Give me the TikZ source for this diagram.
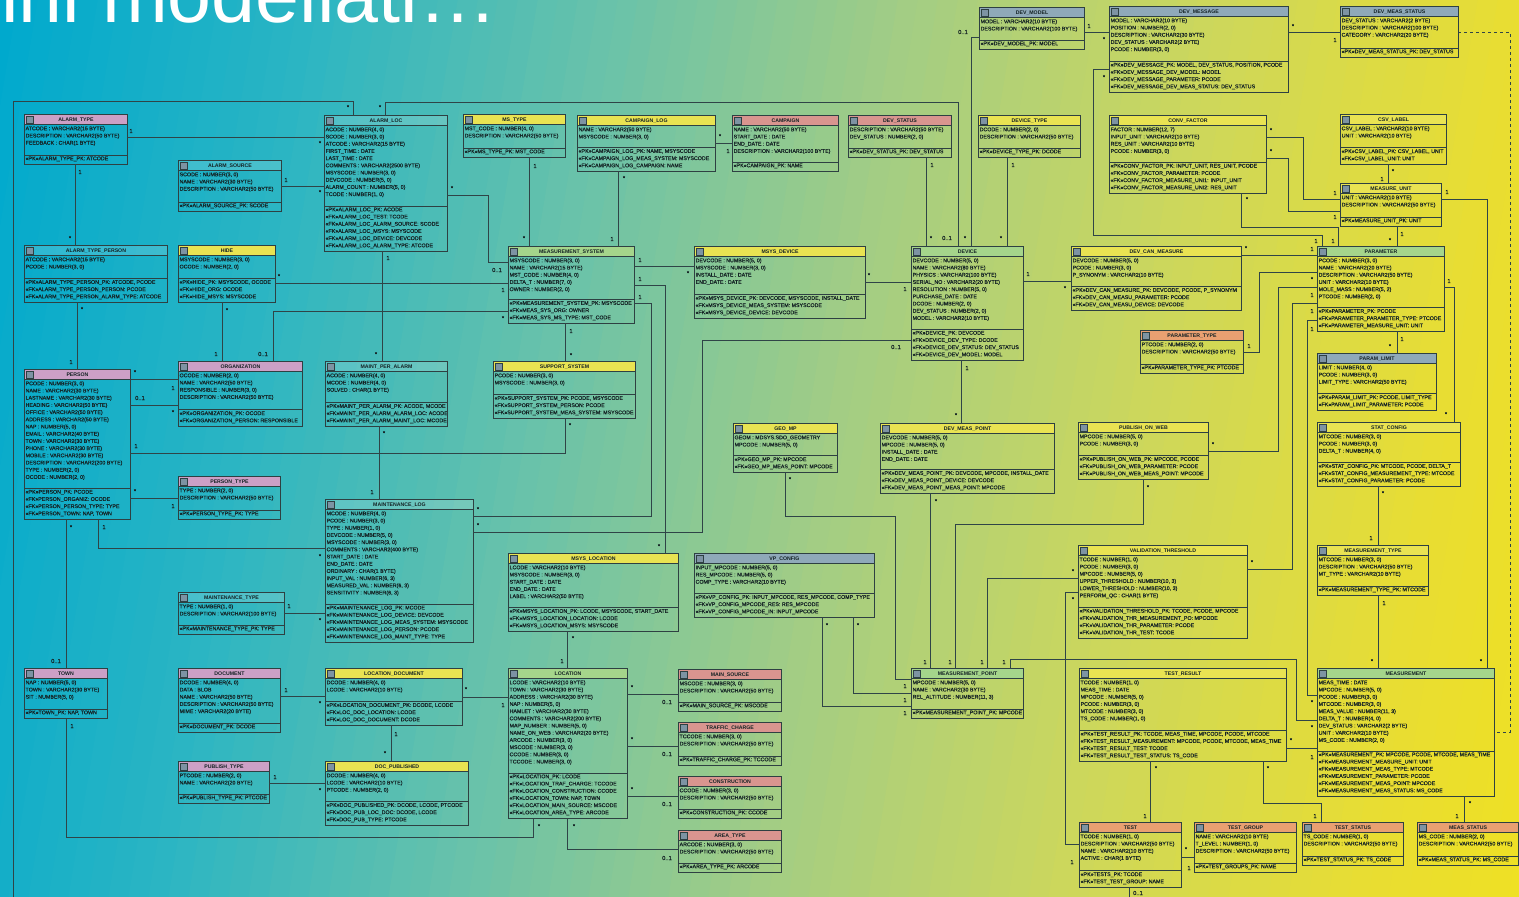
\documentclass[tikz,border=0pt]{standalone}
\usepackage{fontspec}
\setmainfont{Liberation Sans}
\newfontfamily\rowfont[FakeBold=0.4]{Liberation Sans}
\usetikzlibrary{fit,calc}
\definecolor{g0}{HTML}{00A9CD}
\definecolor{g1}{HTML}{2BB5C3}
\definecolor{g2}{HTML}{69C2AA}
\definecolor{g3}{HTML}{A3CD84}
\definecolor{g4}{HTML}{CCD75C}
\definecolor{g5}{HTML}{E8DD33}
\definecolor{g6}{HTML}{F5E416}
\definecolor{bordc}{HTML}{2E4042}
\definecolor{txtc}{HTML}{142224}
\definecolor{iconc}{HTML}{7D93A3}
\definecolor{lncol}{HTML}{2F4447}
\definecolor{hY}{HTML}{E9E352}
\definecolor{hG}{HTML}{A5D58B}
\definecolor{hB}{HTML}{8FA9B9}
\definecolor{hM}{HTML}{CCA0C6}
\definecolor{hR}{HTML}{D9958F}
\definecolor{hO}{HTML}{E9A071}
\tikzset{
  tblline/.style={draw=bordc, line width=1pt},
  sepline/.style={draw=bordc, line width=0.7pt},
  icon/.style={draw=bordc, line width=0.4pt, fill=iconc},
  ttl/.style={font=\bfseries\fontsize{5.2}{6}\selectfont, text=txtc, inner sep=0pt},
  rows/.style={font=\rowfont\fontsize{5.3}{7.2}\selectfont, text=txtc, inner sep=0pt},
  hdrY/.style={fill=hY}, hdrG/.style={fill=hG}, hdrB/.style={fill=hB},
  hdrM/.style={fill=hM}, hdrR/.style={fill=hR}, hdrO/.style={fill=hO},
  hdrT/.style={fill=white, fill opacity=0.15},
  conn/.style={draw=lncol, line width=0.8pt},
  dconn/.style={draw=lncol, line width=0.8pt, dashed},
  mult/.style={font=\rowfont\fontsize{5.8}{6}\selectfont, text=txtc, inner sep=0pt},
}
\newcount\mlc
\newcommand{\ml}[2]{\global\advance\mlc by 1 \node[mult] (ml\the\mlc) at (#1) {#2};}
\newcommand{\ertable}[9]{%
  \node[fit={(#2,#3)(#4,#5)}, inner sep=0pt] (#1) {};
  \fill[#6] (#1.north west) rectangle ([yshift=-9.5pt]#1.north east);
  \draw[sepline] ([yshift=-9.5pt]#1.north west) -- ([yshift=-9.5pt]#1.north east);
  \draw[icon] ([xshift=1.6pt,yshift=-1.4pt]#1.north west) rectangle ++(6.6pt,-6.6pt);
  \node[ttl] (#1-t) at ([yshift=-4.9pt]#1.north) {#7};
  \node[rows, anchor=north west] (#1-a) at ([xshift=0.6pt,yshift=-10.2pt]#1.north west) {\begin{tabular}{@{}l@{}}#8\end{tabular}};
  \node[rows, anchor=south west] (#1-k) at ([xshift=0.6pt,yshift=1.6pt]#1.south west) {\begin{tabular}{@{}l@{}}#9\end{tabular}};
  \draw[sepline] (#1-k.north -| #1.west) -- (#1-k.north -| #1.east);
  \draw[tblline] (#1.north west) rectangle (#1.south east);
}
\begin{document}
\catcode`\_=12
\begin{tikzpicture}[x=1pt,y=-1pt]
\useasboundingbox (0,0) rectangle (1519,897);
% background gradient
\foreach \i in {0,...,89}{
  \pgfmathtruncatemacro{\seg}{min(int(\i/15),5)}
  \pgfmathtruncatemacro{\nseg}{\seg+1}
  \pgfmathtruncatemacro{\pp}{(\i-15*\seg)*100/15}
  \colorlet{stripc}{g\nseg!\pp!g\seg}
  \fill[stripc] (\i*20-2,-2) -- (\i*20+21,-2) -- (\i*20+21-150,899) -- (\i*20-2-150,899) -- cycle;
}
\node[anchor=base west, text=white, font=\fontsize{79}{80}\selectfont, inner sep=0pt] (title) at (1,22) {ini modellati…};

% ---------------- tables ----------------
\ertable{alarmtype}{25}{115}{127}{164}{hdrM}{ALARM_TYPE}
{ATCODE : VARCHAR2(15 BYTE)\\DESCRIPTION : VARCHAR2(50 BYTE)\\FEEDBACK : CHAR(1 BYTE)}
{«PK»ALARM_TYPE_PK: ATCODE}
\ertable{alarmsource}{179}{161}{281}{211}{hdrT}{ALARM_SOURCE}
{SCODE : NUMBER(3, 0)\\NAME : VARCHAR2(30 BYTE)\\DESCRIPTION : VARCHAR2(50 BYTE)}
{«PK»ALARM_SOURCE_PK: SCODE}
\ertable{atp}{25}{246}{167}{302}{hdrT}{ALARM_TYPE_PERSON}
{ATCODE : VARCHAR2(15 BYTE)\\PCODE : NUMBER(3, 0)}
{«PK»ALARM_TYPE_PERSON_PK: ATCODE, PCODE\\«FK»ALARM_TYPE_PERSON_PERSON: PCODE\\«FK»ALARM_TYPE_PERSON_ALARM_TYPE: ATCODE}
\ertable{hide}{179}{246}{275}{302}{hdrY}{HIDE}
{MSYSCODE : NUMBER(3, 0)\\OCODE : NUMBER(2, 0)}
{«PK»HIDE_PK: MSYSCODE, OCODE\\«FK»HIDE_ORG: OCODE\\«FK»HIDE_MSYS: MSYSCODE}
\ertable{alarmloc}{325}{116}{447}{251}{hdrT}{ALARM_LOC}
{ACODE : NUMBER(4, 0)\\SCODE : NUMBER(3, 0)\\ATCODE : VARCHAR2(15 BYTE)\\FIRST_TIME : DATE\\LAST_TIME : DATE\\COMMENTS : VARCHAR2(2500 BYTE)\\MSYSCODE : NUMBER(3, 0)\\DEVCODE : NUMBER(5, 0)\\ALARM_COUNT : NUMBER(5, 0)\\TCODE : NUMBER(1, 0)}
{«PK»ALARM_LOC_PK: ACODE\\«FK»ALARM_LOC_TEST: TCODE\\«FK»ALARM_LOC_ALARM_SOURCE: SCODE\\«FK»ALARM_LOC_MSYS: MSYSCODE\\«FK»ALARM_LOC_DEVICE: DEVCODE\\«FK»ALARM_LOC_ALARM_TYPE: ATCODE}
\ertable{mstype}{464}{115}{565}{157}{hdrY}{MS_TYPE}
{MST_CODE : NUMBER(4, 0)\\DESCRIPTION : VARCHAR2(50 BYTE)}
{«PK»MS_TYPE_PK: MST_CODE}
\ertable{camplog}{578}{116}{715}{171}{hdrY}{CAMPAIGN_LOG}
{NAME : VARCHAR2(50 BYTE)\\MSYSCODE : NUMBER(3, 0)}
{«PK»CAMPAIGN_LOG_PK: NAME, MSYSCODE\\«FK»CAMPAIGN_LOG_MEAS_SYSTEM: MSYSCODE\\«FK»CAMPAIGN_LOG_CAMPAIGN: NAME}
\ertable{campaign}{733}{116}{838}{171}{hdrR}{CAMPAIGN}
{NAME : VARCHAR2(50 BYTE)\\START_DATE : DATE\\END_DATE : DATE\\DESCRIPTION : VARCHAR2(100 BYTE)}
{«PK»CAMPAIGN_PK: NAME}
\ertable{devstatus}{849}{116}{951}{157}{hdrR}{DEV_STATUS}
{DESCRIPTION : VARCHAR2(50 BYTE)\\DEV_STATUS : NUMBER(2, 0)}
{«PK»DEV_STATUS_PK: DEV_STATUS}
\ertable{devtype}{979}{116}{1080}{157}{hdrY}{DEVICE_TYPE}
{DCODE : NUMBER(2, 0)\\DESCRIPTION : VARCHAR2(50 BYTE)}
{«PK»DEVICE_TYPE_PK: DCODE}
\ertable{devmodel}{980}{8}{1084}{49}{hdrB}{DEV_MODEL}
{MODEL : VARCHAR2(10 BYTE)\\DESCRIPTION : VARCHAR2(100 BYTE)}
{«PK»DEV_MODEL_PK: MODEL}
\ertable{devmsg}{1110}{7}{1288}{92}{hdrB}{DEV_MESSAGE}
{MODEL : VARCHAR2(10 BYTE)\\POSITION : NUMBER(2, 0)\\DESCRIPTION : VARCHAR2(30 BYTE)\\DEV_STATUS : VARCHAR2(2 BYTE)\\PCODE : NUMBER(3, 0)}
{«PK»DEV_MESSAGE_PK: MODEL, DEV_STATUS, POSITION, PCODE\\«FK»DEV_MESSAGE_DEV_MODEL: MODEL\\«FK»DEV_MESSAGE_PARAMETER: PCODE\\«FK»DEV_MESSAGE_DEV_MEAS_STATUS: DEV_STATUS}
\ertable{devmeasstatus}{1341}{7}{1458}{57}{hdrB}{DEV_MEAS_STATUS}
{DEV_STATUS : VARCHAR2(2 BYTE)\\DESCRIPTION : VARCHAR2(100 BYTE)\\CATEGORY : VARCHAR2(20 BYTE)}
{«PK»DEV_MEAS_STATUS_PK: DEV_STATUS}
\ertable{convfactor}{1110}{116}{1266}{193}{hdrY}{CONV_FACTOR}
{FACTOR : NUMBER(12, 7)\\INPUT_UNIT : VARCHAR2(10 BYTE)\\RES_UNIT : VARCHAR2(10 BYTE)\\PCODE : NUMBER(3, 0)}
{«PK»CONV_FACTOR_PK: INPUT_UNIT, RES_UNIT, PCODE\\«FK»CONV_FACTOR_PARAMETER: PCODE\\«FK»CONV_FACTOR_MEASURE_UNI1: INPUT_UNIT\\«FK»CONV_FACTOR_MEASURE_UNI2: RES_UNIT}
\ertable{csvlabel}{1341}{115}{1446}{164}{hdrY}{CSV_LABEL}
{CSV_LABEL : VARCHAR2(10 BYTE)\\UNIT : VARCHAR2(10 BYTE)}
{«PK»CSV_LABEL_PK: CSV_LABEL, UNIT\\«FK»CSV_LABEL_UNIT: UNIT}
\ertable{measunit}{1341}{184}{1441}{226}{hdrY}{MEASURE_UNIT}
{UNIT : VARCHAR2(10 BYTE)\\DESCRIPTION : VARCHAR2(50 BYTE)}
{«PK»MEASURE_UNIT_PK: UNIT}
\ertable{meassys}{509}{247}{634}{323}{hdrG}{MEASUREMENT_SYSTEM}
{MSYSCODE : NUMBER(3, 0)\\NAME : VARCHAR2(15 BYTE)\\MST_CODE : NUMBER(4, 0)\\DELTA_T : NUMBER(7, 0)\\OWNER : NUMBER(2, 0)}
{«PK»MEASUREMENT_SYSTEM_PK: MSYSCODE\\«FK»MEAS_SYS_ORG: OWNER\\«FK»MEAS_SYS_MS_TYPE: MST_CODE}
\ertable{msysdevice}{695}{247}{865}{318}{hdrY}{MSYS_DEVICE}
{DEVCODE : NUMBER(5, 0)\\MSYSCODE : NUMBER(3, 0)\\INSTALL_DATE : DATE\\END_DATE : DATE}
{«PK»MSYS_DEVICE_PK: DEVCODE, MSYSCODE, INSTALL_DATE\\«FK»MSYS_DEVICE_MEAS_SYSTEM: MSYSCODE\\«FK»MSYS_DEVICE_DEVICE: DEVCODE}
\ertable{device}{912}{247}{1023}{360}{hdrG}{DEVICE}
{DEVCODE : NUMBER(5, 0)\\NAME : VARCHAR2(80 BYTE)\\PHYSICS : VARCHAR2(100 BYTE)\\SERIAL_NO : VARCHAR2(20 BYTE)\\RESOLUTION : NUMBER(5, 0)\\PURCHASE_DATE : DATE\\DCODE : NUMBER(2, 0)\\DEV_STATUS : NUMBER(2, 0)\\MODEL : VARCHAR2(10 BYTE)}
{«PK»DEVICE_PK: DEVCODE\\«FK»DEVICE_DEV_TYPE: DCODE\\«FK»DEVICE_DEV_STATUS: DEV_STATUS\\«FK»DEVICE_DEV_MODEL: MODEL}
\ertable{devcan}{1072}{247}{1241}{310}{hdrY}{DEV_CAN_MEASURE}
{DEVCODE : NUMBER(5, 0)\\PCODE : NUMBER(3, 0)\\P_SYNONYM : VARCHAR2(10 BYTE)}
{«PK»DEV_CAN_MEASURE_PK: DEVCODE, PCODE, P_SYNONYM\\«FK»DEV_CAN_MEASU_PARAMETER: PCODE\\«FK»DEV_CAN_MEASU_DEVICE: DEVCODE}
\ertable{parameter}{1318}{247}{1444}{331}{hdrG}{PARAMETER}
{PCODE : NUMBER(3, 0)\\NAME : VARCHAR2(20 BYTE)\\DESCRIPTION : VARCHAR2(50 BYTE)\\UNIT : VARCHAR2(10 BYTE)\\MOLE_MASS : NUMBER(5, 2)\\PTCODE : NUMBER(2, 0)}
{«PK»PARAMETER_PK: PCODE\\«FK»PARAMETER_PARAMETER_TYPE: PTCODE\\«FK»PARAMETER_MEASURE_UNIT: UNIT}
\ertable{paramtype}{1141}{331}{1243}{373}{hdrO}{PARAMETER_TYPE}
{PTCODE : NUMBER(2, 0)\\DESCRIPTION : VARCHAR2(50 BYTE)}
{«PK»PARAMETER_TYPE_PK: PTCODE}
\ertable{paramlimit}{1318}{354}{1436}{410}{hdrB}{PARAM_LIMIT}
{LIMIT : NUMBER(4, 0)\\PCODE : NUMBER(3, 0)\\LIMIT_TYPE : VARCHAR2(50 BYTE)}
{«PK»PARAM_LIMIT_PK: PCODE, LIMIT_TYPE\\«FK»PARAM_LIMIT_PARAMETER: PCODE}
\ertable{statconfig}{1318}{423}{1460}{486}{hdrY}{STAT_CONFIG}
{MTCODE : NUMBER(3, 0)\\PCODE : NUMBER(3, 0)\\DELTA_T : NUMBER(4, 0)}
{«PK»STAT_CONFIG_PK: MTCODE, PCODE, DELTA_T\\«FK»STAT_CONFIG_MEASUREMENT_TYPE: MTCODE\\«FK»STAT_CONFIG_PARAMETER: PCODE}
\ertable{meastype}{1318}{546}{1428}{595}{hdrY}{MEASUREMENT_TYPE}
{MTCODE : NUMBER(3, 0)\\DESCRIPTION : VARCHAR2(50 BYTE)\\MT_TYPE : VARCHAR2(10 BYTE)}
{«PK»MEASUREMENT_TYPE_PK: MTCODE}
\ertable{pubweb}{1079}{423}{1208}{479}{hdrY}{PUBLISH_ON_WEB}
{MPCODE : NUMBER(5, 0)\\PCODE : NUMBER(3, 0)}
{«PK»PUBLISH_ON_WEB_PK: MPCODE, PCODE\\«FK»PUBLISH_ON_WEB_PARAMETER: PCODE\\«FK»PUBLISH_ON_WEB_MEAS_POINT: MPCODE}
\ertable{valthr}{1079}{546}{1247}{638}{hdrY}{VALIDATION_THRESHOLD}
{TCODE : NUMBER(1, 0)\\PCODE : NUMBER(3, 0)\\MPCODE : NUMBER(5, 0)\\UPPER_THRESHOLD : NUMBER(10, 3)\\LOWER_THRESHOLD : NUMBER(10, 3)\\PERFORM_QC : CHAR(1 BYTE)}
{«PK»VALIDATION_THRESHOLD_PK: TCODE, PCODE, MPCODE\\«FK»VALIDATION_THR_MEASUREMENT_PO: MPCODE\\«FK»VALIDATION_THR_PARAMETER: PCODE\\«FK»VALIDATION_THR_TEST: TCODE}
\ertable{geomp}{734}{424}{837}{472}{hdrY}{GEO_MP}
{GEOM : MDSYS.SDO_GEOMETRY\\MPCODE : NUMBER(5, 0)}
{«PK»GEO_MP_PK: MPCODE\\«FK»GEO_MP_MEAS_POINT: MPCODE}
\ertable{devmeaspt}{881}{424}{1054}{493}{hdrY}{DEV_MEAS_POINT}
{DEVCODE : NUMBER(5, 0)\\MPCODE : NUMBER(5, 0)\\INSTALL_DATE : DATE\\END_DATE : DATE}
{«PK»DEV_MEAS_POINT_PK: DEVCODE, MPCODE, INSTALL_DATE\\«FK»DEV_MEAS_POINT_DEVICE: DEVCODE\\«FK»DEV_MEAS_POINT_MEAS_POINT: MPCODE}
\ertable{supportsys}{494}{362}{635}{418}{hdrY}{SUPPORT_SYSTEM}
{PCODE : NUMBER(3, 0)\\MSYSCODE : NUMBER(3, 0)}
{«PK»SUPPORT_SYSTEM_PK: PCODE, MSYSCODE\\«FK»SUPPORT_SYSTEM_PERSON: PCODE\\«FK»SUPPORT_SYSTEM_MEAS_SYSTEM: MSYSCODE}
\ertable{msysloc}{509}{554}{678}{631}{hdrY}{MSYS_LOCATION}
{LCODE : VARCHAR2(10 BYTE)\\MSYSCODE : NUMBER(3, 0)\\START_DATE : DATE\\END_DATE : DATE\\LABEL : VARCHAR2(50 BYTE)}
{«PK»MSYS_LOCATION_PK: LCODE, MSYSCODE, START_DATE\\«FK»MSYS_LOCATION_LOCATION: LCODE\\«FK»MSYS_LOCATION_MSYS: MSYSCODE}
\ertable{vpconfig}{695}{554}{874}{617}{hdrB}{VP_CONFIG}
{INPUT_MPCODE : NUMBER(5, 0)\\RES_MPCODE : NUMBER(5, 0)\\COMP_TYPE : VARCHAR2(10 BYTE)}
{«PK»VP_CONFIG_PK: INPUT_MPCODE, RES_MPCODE, COMP_TYPE\\«FK»VP_CONFIG_MPCODE_RES: RES_MPCODE\\«FK»VP_CONFIG_MPCODE_IN: INPUT_MPCODE}
\ertable{location}{509}{669}{627}{818}{hdrG}{LOCATION}
{LCODE : VARCHAR2(10 BYTE)\\TOWN : VARCHAR2(30 BYTE)\\ADDRESS : VARCHAR2(30 BYTE)\\NAP : NUMBER(5, 0)\\HAMLET : VARCHAR2(30 BYTE)\\COMMENTS : VARCHAR2(200 BYTE)\\MAP_NUMBER : NUMBER(5, 0)\\NAME_ON_WEB : VARCHAR2(20 BYTE)\\ARCODE : NUMBER(3, 0)\\MSCODE : NUMBER(3, 0)\\CCODE : NUMBER(3, 0)\\TCCODE : NUMBER(3, 0)}
{«PK»LOCATION_PK: LCODE\\«FK»LOCATION_TRAF_CHARGE: TCCODE\\«FK»LOCATION_CONSTRUCTION: CCODE\\«FK»LOCATION_TOWN: NAP, TOWN\\«FK»LOCATION_MAIN_SOURCE: MSCODE\\«FK»LOCATION_AREA_TYPE: ARCODE}
\ertable{mainsource}{679}{670}{781}{711}{hdrR}{MAIN_SOURCE}
{MSCODE : NUMBER(3, 0)\\DESCRIPTION : VARCHAR2(50 BYTE)}
{«PK»MAIN_SOURCE_PK: MSCODE}
\ertable{trafficcharge}{679}{723}{781}{765}{hdrR}{TRAFFIC_CHARGE}
{TCCODE : NUMBER(3, 0)\\DESCRIPTION : VARCHAR2(50 BYTE)}
{«PK»TRAFFIC_CHARGE_PK: TCCODE}
\ertable{construction}{679}{777}{781}{818}{hdrR}{CONSTRUCTION}
{CCODE : NUMBER(3, 0)\\DESCRIPTION : VARCHAR2(50 BYTE)}
{«PK»CONSTRUCTION_PK: CCODE}
\ertable{areatype}{679}{831}{781}{872}{hdrR}{AREA_TYPE}
{ARCODE : NUMBER(3, 0)\\DESCRIPTION : VARCHAR2(50 BYTE)}
{«PK»AREA_TYPE_PK: ARCODE}
\ertable{person}{25}{370}{130}{519}{hdrM}{PERSON}
{PCODE : NUMBER(3, 0)\\NAME : VARCHAR2(30 BYTE)\\LASTNAME : VARCHAR2(30 BYTE)\\HEADING : VARCHAR2(50 BYTE)\\OFFICE : VARCHAR2(50 BYTE)\\ADDRESS : VARCHAR2(50 BYTE)\\NAP : NUMBER(5, 0)\\EMAIL : VARCHAR2(40 BYTE)\\TOWN : VARCHAR2(30 BYTE)\\PHONE : VARCHAR2(30 BYTE)\\MOBILE : VARCHAR2(30 BYTE)\\DESCRIPTION : VARCHAR2(200 BYTE)\\TYPE : NUMBER(2, 0)\\OCODE : NUMBER(2, 0)}
{«PK»PERSON_PK: PCODE\\«FK»PERSON_ORGANIZ: OCODE\\«FK»PERSON_PERSON_TYPE: TYPE\\«FK»PERSON_TOWN: NAP, TOWN}
\ertable{organization}{179}{362}{302}{426}{hdrM}{ORGANIZATION}
{OCODE : NUMBER(2, 0)\\NAME : VARCHAR2(50 BYTE)\\RESPONSIBLE : NUMBER(3, 0)\\DESCRIPTION : VARCHAR2(50 BYTE)}
{«PK»ORGANIZATION_PK: OCODE\\«FK»ORGANIZATION_PERSON: RESPONSIBLE}
\ertable{maintperalarm}{326}{362}{447}{426}{hdrT}{MAINT_PER_ALARM}
{ACODE : NUMBER(4, 0)\\MCODE : NUMBER(4, 0)\\SOLVED : CHAR(1 BYTE)}
{«PK»MAINT_PER_ALARM_PK: ACODE, MCODE\\«FK»MAINT_PER_ALARM_ALARM_LOC: ACODE\\«FK»MAINT_PER_ALARM_MAINT_LOC: MCODE}
\ertable{persontype}{179}{477}{280}{519}{hdrM}{PERSON_TYPE}
{TYPE : NUMBER(2, 0)\\DESCRIPTION : VARCHAR2(50 BYTE)}
{«PK»PERSON_TYPE_PK: TYPE}
\ertable{maintlog}{326}{500}{473}{642}{hdrT}{MAINTENANCE_LOG}
{MCODE : NUMBER(4, 0)\\PCODE : NUMBER(3, 0)\\TYPE : NUMBER(1, 0)\\DEVCODE : NUMBER(5, 0)\\MSYSCODE : NUMBER(3, 0)\\COMMENTS : VARCHAR2(400 BYTE)\\START_DATE : DATE\\END_DATE : DATE\\ORDINARY : CHAR(1 BYTE)\\INPUT_VAL : NUMBER(6, 3)\\MEASURED_VAL : NUMBER(6, 3)\\SENSITIVITY : NUMBER(6, 3)}
{«PK»MAINTENANCE_LOG_PK: MCODE\\«FK»MAINTENANCE_LOG_DEVICE: DEVCODE\\«FK»MAINTENANCE_LOG_MEAS_SYSTEM: MSYSCODE\\«FK»MAINTENANCE_LOG_PERSON: PCODE\\«FK»MAINTENANCE_LOG_MAINT_TYPE: TYPE}
\ertable{mainttype}{179}{593}{284}{634}{hdrT}{MAINTENANCE_TYPE}
{TYPE : NUMBER(1, 0)\\DESCRIPTION : VARCHAR2(100 BYTE)}
{«PK»MAINTENANCE_TYPE_PK: TYPE}
\ertable{town}{25}{669}{107}{718}{hdrM}{TOWN}
{NAP : NUMBER(5, 0)\\TOWN : VARCHAR2(30 BYTE)\\SIT : NUMBER(5, 0)}
{«PK»TOWN_PK: NAP, TOWN}
\ertable{document}{179}{669}{280}{732}{hdrM}{DOCUMENT}
{DCODE : NUMBER(4, 0)\\DATA : BLOB\\NAME : VARCHAR2(50 BYTE)\\DESCRIPTION : VARCHAR2(50 BYTE)\\MIME : VARCHAR2(20 BYTE)}
{«PK»DOCUMENT_PK: DCODE}
\ertable{locdoc}{326}{669}{462}{725}{hdrY}{LOCATION_DOCUMENT}
{DCODE : NUMBER(4, 0)\\LCODE : VARCHAR2(10 BYTE)}
{«PK»LOCATION_DOCUMENT_PK: DCODE, LCODE\\«FK»LOC_DOC_LOCATION: LCODE\\«FK»LOC_DOC_DOCUMENT: DCODE}
\ertable{publishtype}{179}{762}{269}{803}{hdrM}{PUBLISH_TYPE}
{PTCODE : NUMBER(2, 0)\\NAME : VARCHAR2(20 BYTE)}
{«PK»PUBLISH_TYPE_PK: PTCODE}
\ertable{docpub}{326}{762}{468}{825}{hdrY}{DOC_PUBLISHED}
{DCODE : NUMBER(4, 0)\\LCODE : VARCHAR2(10 BYTE)\\PTCODE : NUMBER(2, 0)}
{«PK»DOC_PUBLISHED_PK: DCODE, LCODE, PTCODE\\«FK»DOC_PUB_LOC_DOC: DCODE, LCODE\\«FK»DOC_PUB_TYPE: PTCODE}
\ertable{measpoint}{912}{669}{1023}{718}{hdrG}{MEASUREMENT_POINT}
{MPCODE : NUMBER(5, 0)\\NAME : VARCHAR2(30 BYTE)\\REL_ALTITUDE : NUMBER(11, 3)}
{«PK»MEASUREMENT_POINT_PK: MPCODE}
\ertable{testresult}{1080}{669}{1286}{761}{hdrY}{TEST_RESULT}
{TCODE : NUMBER(1, 0)\\MEAS_TIME : DATE\\MPCODE : NUMBER(5, 0)\\PCODE : NUMBER(3, 0)\\MTCODE : NUMBER(3, 0)\\TS_CODE : NUMBER(1, 0)}
{«PK»TEST_RESULT_PK: TCODE, MEAS_TIME, MPCODE, PCODE, MTCODE\\«FK»TEST_RESULT_MEASUREMENT: MPCODE, PCODE, MTCODE, MEAS_TIME\\«FK»TEST_RESULT_TEST: TCODE\\«FK»TEST_RESULT_TEST_STATUS: TS_CODE}
\ertable{measurement}{1318}{669}{1494}{796}{hdrG}{MEASUREMENT}
{MEAS_TIME : DATE\\MPCODE : NUMBER(5, 0)\\PCODE : NUMBER(3, 0)\\MTCODE : NUMBER(3, 0)\\MEAS_VALUE : NUMBER(11, 3)\\DELTA_T : NUMBER(4, 0)\\DEV_STATUS : VARCHAR2(2 BYTE)\\UNIT : VARCHAR2(10 BYTE)\\MS_CODE : NUMBER(2, 0)}
{«PK»MEASUREMENT_PK: MPCODE, PCODE, MTCODE, MEAS_TIME\\«FK»MEASUREMENT_MEASURE_UNIT: UNIT\\«FK»MEASUREMENT_MEAS_TYPE: MTCODE\\«FK»MEASUREMENT_PARAMETER: PCODE\\«FK»MEASUREMENT_MEAS_POINT: MPCODE\\«FK»MEASUREMENT_MEAS_STATUS: MS_CODE}
\ertable{test}{1080}{823}{1181}{887}{hdrO}{TEST}
{TCODE : NUMBER(1, 0)\\DESCRIPTION : VARCHAR2(50 BYTE)\\NAME : VARCHAR2(10 BYTE)\\ACTIVE : CHAR(1 BYTE)}
{«PK»TESTS_PK: TCODE\\«FK»TEST_TEST_GROUP: NAME}
\ertable{testgroup}{1195}{823}{1296}{872}{hdrO}{TEST_GROUP}
{NAME : VARCHAR2(10 BYTE)\\T_LEVEL : NUMBER(1, 0)\\DESCRIPTION : VARCHAR2(50 BYTE)}
{«PK»TEST_GROUPS_PK: NAME}
\ertable{teststatus}{1303}{823}{1403}{865}{hdrO}{TEST_STATUS}
{TS_CODE : NUMBER(1, 0)\\DESCRIPTION : VARCHAR2(50 BYTE)}
{«PK»TEST_STATUS_PK: TS_CODE}
\ertable{measstatus}{1418}{823}{1518}{865}{hdrO}{MEAS_STATUS}
{MS_CODE : NUMBER(2, 0)\\DESCRIPTION : VARCHAR2(50 BYTE)}
{«PK»MEAS_STATUS_PK: MS_CODE}

% ---------------- connectors ----------------
\draw[conn] (alarmtype.east |- 0,137) -- (alarmloc.west |- 0,137);
\draw[conn] (alarmsource.east |- 0,186) -- (alarmloc.west |- 0,186);
\draw[conn] (alarmtype.south -| 75,0) -- (atp.north -| 75,0);
\draw[conn] (atp.south -| 77,0) -- (person.north -| 77,0);
\draw[conn] (hide.east |- 0,283) -- (meassys.west |- 0,283);
\draw[conn] (hide.south -| 222,0) -- (organization.north -| 222,0);
\draw[conn] (organization.north -| 273,0) -- (273,311) -- (meassys.west |- 0,311);
\draw[conn] (alarmloc.east |- 0,195) -- (488,195) -- (488,262) -- (meassys.west |- 0,262);
\draw[conn] (mstype.south -| 529,0) -- (meassys.north -| 529,0);
\draw[conn] (camplog.south -| 618,0) -- (meassys.north -| 618,0);
\draw[conn] (camplog.east |- 0,143) -- (campaign.west |- 0,143);
\draw[conn] (devstatus.south -| 926,0) -- (device.north -| 926,0);
\draw[conn] (devtype.south -| 1007,0) -- (device.north -| 1007,0);
\draw[conn] (devmodel.west |- 0,37) -- (971,37) -- (device.north -| 971,0);
\draw[conn] (alarmloc.north -| 385,0) -- (385,102) -- (958,102) -- (device.north -| 958,0);
\draw[conn] (alarmloc.north -| 353,0) -- (353,101) -- (13,101) -- (13,910) -- (1129,910) -- (test.south -| 1129,0);
\draw[conn] (devmodel.east |- 0,32) -- (devmsg.west |- 0,32);
\draw[conn] (devmsg.east |- 0,32) -- (devmeasstatus.west |- 0,32);
\draw[dconn] (devmeasstatus.east |- 0,32) -- (1510,32) -- (1510,732) -- (measurement.east |- 0,732);
\draw[conn] (devmsg.west |- 0,69) -- (1093,69) -- (1093,235) -- (1322,235) -- (parameter.north -| 1322,0);
\draw[conn] (convfactor.south -| 1241,0) -- (1241,227) -- (1338,227) -- (parameter.north -| 1338,0);
\draw[conn] (convfactor.east |- 0,137) -- (1303,137) -- (1303,199) -- (measunit.west |- 0,199);
\draw[conn] (convfactor.east |- 0,158) -- (1288,158) -- (1288,211) -- (measunit.west |- 0,211);
\draw[conn] (csvlabel.south -| 1388,0) -- (measunit.north -| 1388,0);
\draw[conn] (measunit.south -| 1397,0) -- (parameter.north -| 1397,0);
\draw[conn] (measunit.east |- 0,199) -- (1487,199) -- (measurement.north -| 1487,0);
\draw[conn] (devcan.east |- 0,255) -- (parameter.west |- 0,255);
\draw[conn] (device.east |- 0,281) -- (devcan.west |- 0,281);
\draw[conn] (paramtype.east |- 0,352) -- (1259,352) -- (1259,272) -- (parameter.west |- 0,272);
\draw[conn] (parameter.west |- 0,287) -- (1278,287) -- (1278,451) -- (pubweb.east |- 0,451);
\draw[conn] (parameter.west |- 0,303) -- (1292,303) -- (1292,569) -- (valthr.east |- 0,569);
\draw[conn] (parameter.west |- 0,320) -- (1307,320) -- (1307,695) -- (measurement.west |- 0,695);
\draw[conn] (parameter.south -| 1397,0) -- (paramlimit.north -| 1397,0);
\draw[conn] (parameter.east |- 0,287) -- (1454,287) -- (statconfig.north -| 1454,0);
\draw[conn] (statconfig.south -| 1378,0) -- (meastype.north -| 1378,0);
\draw[conn] (meastype.south -| 1378,0) -- (measurement.north -| 1378,0);
\draw[conn] (meassys.east |- 0,266) -- (msysdevice.west |- 0,266);
\draw[conn] (meassys.east |- 0,285) -- (665,285) -- (msysloc.north -| 665,0);
\draw[conn] (meassys.east |- 0,303) -- (651,303) -- (651,516) -- (maintlog.east |- 0,516);
\draw[conn] (device.west |- 0,340) -- (702,340) -- (702,532) -- (maintlog.east |- 0,532);
\draw[conn] (msysdevice.east |- 0,282) -- (device.west |- 0,282);
\draw[conn] (device.south -| 961,0) -- (devmeaspt.north -| 961,0);
\draw[conn] (meassys.south -| 565,0) -- (supportsys.north -| 565,0);
\draw[conn] (person.east |- 0,453) -- (565,453) -- (supportsys.south -| 565,0);
\draw[conn] (alarmloc.south -| 382,0) -- (maintperalarm.north -| 382,0);
\draw[conn] (maintperalarm.south -| 379,0) -- (maintlog.north -| 379,0);
\draw[conn] (person.east |- 0,379) -- (organization.west |- 0,379);
\draw[conn] (person.east |- 0,405) -- (organization.west |- 0,405);
\draw[conn] (person.east |- 0,498) -- (persontype.west |- 0,498);
\draw[conn] (person.south -| 98,0) -- (98,548) -- (maintlog.west |- 0,548);
\draw[conn] (person.south -| 66,0) -- (town.north -| 66,0);
\draw[conn] (town.south -| 66,0) -- (66,837) -- (533,837) -- (location.south -| 533,0);
\draw[conn] (mainttype.east |- 0,613) -- (maintlog.west |- 0,613);
\draw[conn] (document.east |- 0,696) -- (locdoc.west |- 0,696);
\draw[conn] (locdoc.east |- 0,697) -- (location.west |- 0,697);
\draw[conn] (locdoc.south -| 391,0) -- (docpub.north -| 391,0);
\draw[conn] (publishtype.east |- 0,783) -- (docpub.west |- 0,783);
\draw[conn] (msysloc.south -| 567,0) -- (location.north -| 567,0);
\draw[conn] (location.east |- 0,694) -- (mainsource.west |- 0,694);
\draw[conn] (location.east |- 0,746) -- (trafficcharge.west |- 0,746);
\draw[conn] (location.east |- 0,796) -- (construction.west |- 0,796);
\draw[conn] (location.south -| 567,0) -- (567,849) -- (areatype.west |- 0,849);
\draw[conn] (geomp.south -| 785,0) -- (785,516) -- (895,516) -- (895,679) -- (measpoint.west |- 0,679);
\draw[conn] (vpconfig.south -| 853,0) -- (853,693) -- (measpoint.west |- 0,693);
\draw[conn] (vpconfig.south -| 822,0) -- (822,706) -- (measpoint.west |- 0,706);
\draw[conn] (devmeaspt.south -| 930,0) -- (measpoint.north -| 930,0);
\draw[conn] (pubweb.south -| 1143,0) -- (1143,524) -- (955,524) -- (measpoint.north -| 955,0);
\draw[conn] (valthr.west |- 0,578) -- (987,578) -- (measpoint.north -| 987,0);
\draw[conn] (valthr.west |- 0,592) -- (1065,592) -- (1065,844) -- (test.west |- 0,844);
\draw[conn] (measpoint.north -| 1010,0) -- (1010,659) -- (1296,659) -- (1296,720) -- (measurement.west |- 0,720);
\draw[conn] (testresult.east |- 0,748) -- (measurement.west |- 0,748);
\draw[conn] (testresult.south -| 1150,0) -- (test.north -| 1150,0);
\draw[conn] (testresult.south -| 1263,0) -- (1263,803) -- (1321,803) -- (teststatus.north -| 1321,0);
\draw[conn] (measurement.south -| 1464,0) -- (measstatus.north -| 1464,0);
\draw[conn] (test.east |- 0,857) -- (testgroup.west |- 0,857);

% ---------------- multiplicities ----------------
\ml{131,131}{1} \ml{320,143}{*}
\ml{286,180}{1} \ml{320,192}{*}
\ml{80,172}{1} \ml{70,238}{*}
\ml{82,309}{*} \ml{71,362}{1}
\ml{279,276}{*} \ml{503,290}{1}
\ml{227,310}{*} \ml{216,354}{1}
\ml{263,354}{0..1} \ml{503,318}{*}
\ml{452,188}{*} \ml{497,270}{0..1}
\ml{535,166}{1} \ml{524,238}{*}
\ml{624,178}{*} \ml{612,239}{1}
\ml{720,136}{*} \ml{728,151}{1}
\ml{932,165}{1} \ml{931,238}{*}
\ml{1013,165}{1} \ml{1001,238}{*}
\ml{963,32}{0..1} \ml{965,238}{*}
\ml{380,107}{*} \ml{947,238}{0..1}
\ml{348,107}{*} \ml{1138,893}{0..1}
\ml{1089,26}{1} \ml{1104,39}{*}
\ml{1293,26}{*} \ml{1335,40}{1}
\ml{1104,77}{*} \ml{1316,241}{1}
\ml{1247,199}{*} \ml{1333,241}{1}
\ml{1271,130}{*} \ml{1335,193}{1}
\ml{1271,151}{*} \ml{1335,217}{1}
\ml{1393,171}{*} \ml{1382,179}{1}
\ml{1402,234}{1} \ml{1390,240}{*}
\ml{1447,192}{1} \ml{1481,661}{*}
\ml{1246,248}{*} \ml{1312,249}{1}
\ml{1028,274}{1} \ml{1065,288}{*}
\ml{1249,346}{1} \ml{1312,279}{*}
\ml{1312,295}{1} \ml{1213,444}{*}
\ml{1312,311}{1} \ml{1252,562}{*}
\ml{1312,329}{1} \ml{1312,702}{*}
\ml{1402,339}{1} \ml{1390,346}{*}
\ml{1449,281}{1} \ml{1446,414}{*}
\ml{1383,493}{*} \ml{1371,538}{1}
\ml{1384,603}{1} \ml{1372,661}{*}
\ml{640,260}{1} \ml{688,273}{*}
\ml{640,279}{1} \ml{659,546}{*}
\ml{640,297}{1} \ml{478,509}{*}
\ml{896,347}{0..1} \ml{478,525}{*}
\ml{869,275}{*} \ml{905,289}{1}
\ml{967,368}{1} \ml{956,415}{*}
\ml{571,331}{1} \ml{571,355}{*}
\ml{136,446}{1} \ml{570,425}{*}
\ml{388,258}{1} \ml{376,354}{*}
\ml{384,433}{*} \ml{372,492}{1}
\ml{135,372}{*} \ml{173,388}{1}
\ml{140,398}{0..1} \ml{173,412}{*}
\ml{135,491}{*} \ml{173,506}{1}
\ml{104,527}{1} \ml{320,556}{*}
\ml{71,527}{*} \ml{56,661}{0..1}
\ml{72,726}{1} \ml{539,826}{*}
\ml{289,606}{1} \ml{320,620}{*}
\ml{286,690}{1} \ml{320,703}{*}
\ml{466,689}{*} \ml{503,705}{1}
\ml{396,734}{1} \ml{385,753}{*}
\ml{275,777}{1} \ml{320,790}{*}
\ml{573,638}{*} \ml{562,661}{1}
\ml{632,687}{*} \ml{667,702}{0..1}
\ml{632,739}{*} \ml{667,754}{0..1}
\ml{632,789}{*} \ml{667,804}{0..1}
\ml{574,826}{*} \ml{667,858}{0..1}
\ml{790,479}{*} \ml{905,686}{1}
\ml{858,625}{*} \ml{905,700}{1}
\ml{827,625}{*} \ml{905,713}{1}
\ml{936,501}{*} \ml{925,662}{1}
\ml{1148,487}{*} \ml{950,662}{1}
\ml{1073,571}{*} \ml{982,662}{1}
\ml{1073,599}{*} \ml{1072,862}{1}
\ml{1004,662}{1} \ml{1312,727}{*}
\ml{1291,740}{*} \ml{1312,757}{1}
\ml{1156,768}{*} \ml{1145,816}{1}
\ml{1268,768}{*} \ml{1315,816}{1}
\ml{1470,803}{*} \ml{1457,816}{1}
\ml{1186,849}{*} \ml{1189,868}{1}
\end{tikzpicture}
\end{document}
